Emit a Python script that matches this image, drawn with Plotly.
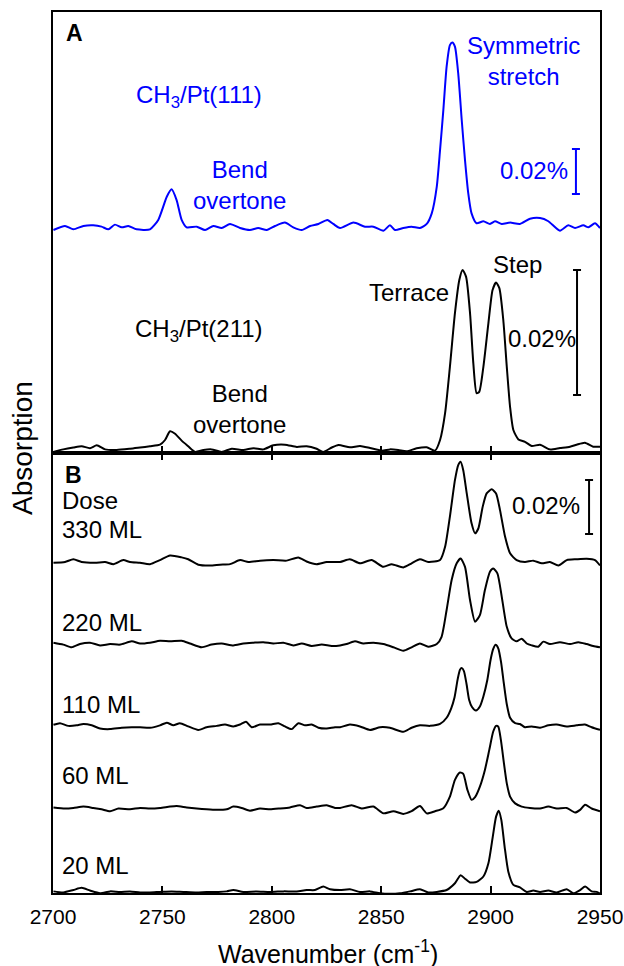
import plotly.graph_objects as go

# ---------------- data (absorption in units of 0.001 %) ----------------
# Panel A, CH3/Pt(111) (blue)
wn_111 = [2700.2, 2705.5, 2709.3, 2713.9, 2718.4, 2722.2, 2725.3, 2728.3, 2731.4, 2734.4,
          2738.2, 2744.3, 2748.1, 2752.0, 2754.2, 2756.5, 2758.8, 2761.1, 2765.7, 2769.5,
          2773.3, 2777.1, 2780.9, 2785.5, 2790.0, 2793.8, 2797.7, 2801.5, 2806.0, 2809.8,
          2813.7, 2817.5, 2821.3, 2825.4, 2828.1, 2831.2, 2837.3, 2842.6, 2846.4, 2851.0,
          2854.0, 2856.3, 2860.1, 2863.9, 2867.7, 2870.8, 2873.1, 2875.4, 2876.9, 2878.4,
          2879.9, 2881.4, 2882.5, 2883.7, 2885.2, 2886.8, 2888.3, 2889.8, 2891.3, 2893.6,
          2896.7, 2899.7, 2902.0, 2905.1, 2908.9, 2913.4, 2918.0, 2922.6, 2926.4, 2931.7,
          2935.5, 2938.6, 2942.4, 2944.7, 2947.7, 2950.0]
abs_111 = [-0.9, 0.9, -0.6, 0.9, 1.2, 0.6, -0.6, 1.5, 0.3, 0.9,
           -0.6, -0.6, 3.6, 13.9, 17.2, 12.4, 3.6, 0.3, 0.6, -0.9,
           0.9, 0.0, 1.8, 0.0, -0.9, 0.0, -0.9, 0.9, 2.4, 0.3,
           -0.9, 0.9, 1.8, 3.6, 1.8, 0.0, 2.4, 0.6, 0.6, -1.2,
           1.2, -0.9, 0.0, 0.6, 0.0, 1.8, 6.5, 18.4, 34.7, 52.4,
           71.7, 81.3, 82.5, 80.6, 68.7, 48.0, 30.2, 15.4, 6.5, 2.1,
           3.0, 1.8, 3.0, 1.8, 2.4, 1.8, 4.1, 4.4, 3.0, -1.2,
           1.2, 0.0, 1.2, 0.3, 2.1, 0.0]

# Panel A, CH3/Pt(211) (black)
wn_211 = [2700.2, 2704.7, 2709.3, 2713.1, 2716.9, 2720.0, 2723.8, 2729.1, 2735.2, 2739.8,
          2744.3, 2748.9, 2751.2, 2753.5, 2755.8, 2758.8, 2761.8, 2764.9, 2768.7, 2772.5,
          2777.1, 2781.7, 2787.0, 2791.6, 2796.1, 2800.7, 2806.0, 2811.4, 2815.9, 2820.5,
          2823.5, 2827.4, 2830.5, 2835.7, 2840.3, 2844.9, 2850.2, 2854.0, 2857.8, 2861.6,
          2866.2, 2870.8, 2874.6, 2876.9, 2879.2, 2881.4, 2883.7, 2885.7, 2887.2, 2888.8,
          2890.6, 2892.1, 2893.6, 2894.8, 2896.7, 2899.0, 2900.9, 2902.5, 2904.0, 2905.8,
          2907.4, 2908.9, 2910.4, 2912.7, 2915.7, 2918.8, 2922.6, 2927.1, 2931.7, 2936.3,
          2939.3, 2943.1, 2946.9, 2950.0]
abs_211 = [-0.3, 0.1, 0.4, 0.6, 0.3, 0.75, 0.1, 0.0, 0.2, 0.4,
           0.6, 0.85, 1.6, 3.0, 2.6, 1.5, 0.6, -0.3, 0.0, 0.1,
           -0.3, 0.2, 0.0, 0.3, 0.1, 0.75, 0.85, 0.5, 0.6, 0.2,
           -0.3, 0.4, 0.8, 0.43, 0.64, 0.32, -0.1, 0.1, 0.0, -0.2,
           0.27, 0.43, -0.1, 1.6, 5.9, 13.3, 21.9, 27.2, 28.8, 27.7,
           21.9, 13.9, 9.1, 9.3, 13.3, 20.3, 25.6, 26.8, 25.9, 20.8,
           13.3, 6.9, 3.2, 1.7, 1.3, 0.64, 0.85, 0.1, 0.32, 0.53,
           0.85, 1.17, 0.53, 0.53]

# Panel B, dose series
dose_labels = ["330 ML", "220 ML", "110 ML", "60 ML", "20 ML"]
dose_offsets = [122.2, 92.2, 61.9, 31.5, 0.4]

wn_330 = [2700.2, 2705.5, 2709.3, 2713.1, 2719.2, 2723.8, 2727.6, 2732.1, 2735.2, 2739.8,
          2744.3, 2748.9, 2753.5, 2758.8, 2761.8, 2766.4, 2771.8, 2776.3, 2780.9, 2785.5,
          2789.3, 2794.6, 2800.7, 2806.8, 2812.1, 2815.9, 2820.5, 2825.1, 2831.2, 2835.7,
          2840.3, 2845.6, 2851.0, 2854.8, 2860.1, 2863.9, 2867.7, 2871.5, 2876.9, 2879.2,
          2881.4, 2883.7, 2885.2, 2886.3, 2887.5, 2889.1, 2891.3, 2892.9, 2894.4, 2896.4,
          2898.2, 2900.5, 2902.5, 2904.3, 2906.6, 2908.9, 2911.9, 2915.7, 2919.5, 2923.4,
          2927.1, 2931.0, 2934.8, 2939.3, 2943.9, 2947.7, 2950.0]
abs_330 = [0.1, 0.4, 1.4, 0.4, 0.1, 0.4, -0.4, 1.1, 0.4, 0.1,
           -0.4, 1.1, 2.8, 2.1, 1.4, -0.6, -0.9, -0.6, -0.4, 1.1,
           0.4, 0.9, 1.1, 0.9, 2.1, 0.6, -0.4, 0.4, 0.4, 1.4,
           -0.1, 1.1, -1.4, -0.4, -1.6, -0.1, 1.4, 0.4, 1.1, 6.0,
           17.2, 30.7, 36.3, 37.5, 34.4, 25.8, 14.7, 11.0, 12.8, 20.9,
           25.8, 27.3, 25.8, 19.6, 9.8, 3.6, 1.1, 0.4, 0.9, -0.1,
           0.4, -0.9, 1.1, 1.4, 1.6, 1.1, -0.9]

wn_220 = [2700.2, 2704.7, 2708.5, 2712.3, 2716.9, 2721.5, 2726.1, 2730.6, 2736.0, 2739.8,
          2744.3, 2748.9, 2753.5, 2758.8, 2762.6, 2767.9, 2772.5, 2777.1, 2782.4, 2787.0,
          2791.6, 2796.1, 2800.7, 2805.3, 2809.8, 2813.7, 2818.2, 2822.8, 2827.4, 2831.2,
          2834.2, 2838.0, 2841.8, 2846.4, 2851.0, 2855.6, 2860.1, 2863.9, 2867.7, 2871.5,
          2875.4, 2877.6, 2879.9, 2882.2, 2884.5, 2886.3, 2888.3, 2890.6, 2892.9, 2895.1,
          2897.4, 2899.7, 2901.2, 2903.1, 2905.1, 2907.4, 2909.6, 2911.9, 2914.2, 2916.5,
          2918.8, 2921.8, 2924.1, 2927.1, 2931.7, 2936.3, 2940.1, 2943.9, 2946.9, 2950.0]
abs_220 = [0.5, -0.2, -1.2, 0.0, 0.5, -0.5, 0.0, -0.2, 1.0, 0.2,
           0.5, 1.2, 1.0, 1.2, 0.2, -1.2, -0.2, 0.2, -0.5, 0.2,
           0.5, 0.7, 0.2, 0.5, -0.5, 0.2, -0.7, -0.2, -0.7, -0.5,
           0.0, 1.0, 0.2, 0.5, 0.0, -1.2, -2.5, -1.2, 0.2, -1.0,
           0.0, 2.7, 12.6, 23.7, 29.9, 31.7, 28.6, 16.3, 8.3, 10.7,
           20.0, 26.8, 28.0, 26.2, 17.5, 6.4, 2.1, 1.0, 2.0, 0.2,
           -0.5, -1.0, 0.9, 0.0, 0.7, 0.0, 0.7, 0.0, -0.7, -1.2]

wn_110 = [2700.2, 2703.2, 2707.0, 2710.8, 2713.9, 2717.7, 2721.5, 2726.1, 2731.4, 2736.0,
          2739.8, 2744.3, 2748.9, 2752.0, 2755.0, 2758.0, 2761.8, 2766.4, 2770.2, 2774.8,
          2778.6, 2782.4, 2785.5, 2788.2, 2790.8, 2794.6, 2799.2, 2803.0, 2806.0, 2809.1,
          2812.1, 2815.2, 2818.2, 2821.3, 2825.1, 2828.9, 2831.2, 2835.7, 2840.3, 2844.9,
          2849.5, 2854.0, 2860.1, 2863.9, 2867.7, 2872.3, 2876.9, 2879.9, 2882.0, 2883.5,
          2885.0, 2886.0, 2886.8, 2887.8, 2889.0, 2890.2, 2891.5, 2893.3, 2895.1, 2896.7,
          2898.5, 2900.0, 2901.2, 2902.3, 2903.5, 2904.8, 2906.0, 2907.4, 2908.9, 2911.2,
          2913.4, 2915.7, 2918.8, 2922.6, 2926.4, 2930.2, 2934.8, 2939.3, 2943.1, 2946.2,
          2950.0]
abs_110 = [0.4, 1.0, 0.0, 0.2, 0.7, 0.2, -1.0, -1.2, -0.7, -0.5,
           -0.5, -0.7, 0.2, 1.2, 0.2, 1.0, -0.2, -1.5, -0.5, 0.0,
           0.5, -0.2, 0.5, 1.5, -0.5, 0.5, 0.5, 1.0, -0.2, -1.2,
           1.0, 0.2, 0.5, -0.7, -1.0, -0.5, -0.5, 0.5, -0.2, -1.5,
           -0.5, -0.7, -2.2, -0.7, 0.2, 0.0, 0.7, 3.0, 6.5, 10.5,
           17.5, 20.8, 21.4, 20.3, 15.5, 9.6, 7.0, 5.7, 7.2, 10.9,
           17.0, 24.5, 28.5, 30.0, 28.7, 23.5, 16.0, 8.0, 3.0, 1.0,
           0.7, -0.5, -0.2, -0.7, 0.2, 0.5, -0.2, 0.2, 0.5, -0.5,
           -1.5]

wn_60 = [2700.2, 2705.5, 2709.3, 2713.9, 2718.4, 2722.2, 2726.1, 2729.9, 2735.2, 2739.8,
         2744.3, 2748.9, 2753.5, 2756.5, 2761.1, 2765.7, 2770.2, 2774.8, 2779.4, 2782.4,
         2786.2, 2790.0, 2794.6, 2799.2, 2803.7, 2808.3, 2812.9, 2815.9, 2820.5, 2825.1,
         2828.9, 2831.2, 2836.5, 2841.1, 2846.4, 2851.0, 2855.6, 2860.1, 2863.9, 2867.7,
         2870.8, 2874.6, 2878.4, 2881.4, 2883.7, 2886.0, 2887.5, 2889.4, 2891.3, 2892.9,
         2895.1, 2897.4, 2899.4, 2901.2, 2902.5, 2903.5, 2904.7, 2906.1, 2907.4, 2908.9,
         2911.2, 2914.2, 2918.0, 2922.6, 2926.4, 2930.2, 2934.8, 2938.6, 2940.9, 2943.2,
         2946.2, 2950.0]
abs_60 = [0.2, -0.2, 0.0, 0.5, 0.0, -0.5, -1.2, -0.2, -0.5, 0.0,
          -0.2, 0.0, 0.5, 0.7, 0.2, -0.2, -0.5, -0.7, -0.5, 0.5,
          0.0, -1.0, -0.2, -0.5, -0.2, 0.2, 1.0, 0.0, 0.5, 1.0,
          0.0, 0.0, 1.0, -0.2, 0.5, -2.0, -1.2, -2.2, -1.2, 0.7,
          -2.0, -1.2, -0.1, 4.2, 10.4, 13.1, 12.6, 6.7, 3.0, 4.0,
          7.9, 14.1, 21.5, 28.3, 30.4, 30.1, 25.2, 16.5, 9.1, 4.2,
          1.7, 0.5, 0.0, -0.2, 0.5, -0.2, 0.0, -1.7, -0.7, 1.2,
          -0.2, -1.2]

wn_20 = [2700.2, 2704.7, 2709.3, 2713.1, 2716.9, 2721.5, 2726.1, 2730.6, 2735.2, 2739.8,
         2744.3, 2748.9, 2754.2, 2759.6, 2765.7, 2770.2, 2775.6, 2779.4, 2782.4, 2787.0,
         2793.1, 2799.2, 2805.3, 2811.4, 2815.9, 2819.7, 2823.5, 2826.6, 2831.2, 2835.7,
         2840.3, 2844.9, 2849.5, 2854.0, 2858.6, 2863.2, 2867.7, 2871.5, 2875.4, 2879.9,
         2883.7, 2886.3, 2888.3, 2890.6, 2893.6, 2896.7, 2899.0, 2901.0, 2902.5, 2903.7,
         2904.9, 2906.4, 2908.1, 2910.4, 2913.4, 2916.5, 2919.5, 2922.6, 2926.4, 2930.2,
         2934.8, 2937.8, 2940.9, 2943.2, 2946.2, 2948.5, 2950.0]
abs_20 = [0.2, -0.2, 0.7, 1.5, 0.5, -0.5, 0.2, 0.0, 0.2, -0.2,
          -0.2, 0.0, 0.2, 0.0, -0.2, 0.0, 0.0, 0.2, 0.7, 0.0,
          0.2, 0.0, 0.2, 0.2, 0.7, 0.7, 2.0, 1.0, 0.7, 1.0,
          0.0, 0.2, -0.5, -0.7, -0.5, 0.2, 1.0, -0.2, 0.0, 0.7,
          3.2, 6.2, 4.9, 3.5, 3.7, 5.7, 10.6, 20.5, 27.9, 30.1,
          26.7, 16.8, 7.5, 2.6, 1.7, 0.0, 0.5, 0.0, 0.5, -0.2,
          1.0, -0.5, 0.7, 2.0, 0.2, 0.0, -0.7]

dose_wn = [wn_330, wn_220, wn_110, wn_60, wn_20]
dose_abs = [abs_330, abs_220, abs_110, abs_60, abs_20]

x_ticks = [2700, 2750, 2800, 2850, 2900, 2950]
scale_bar = 20          # 0.02 % in units of 0.001 %
scale_label = "0.02%"

# ---------------- layout helpers ----------------
W, H = 624, 966
ML, MR, MT, MB = 53, 24, 12, 73
PW, PH = W - ML - MR, H - MT - MB
def px(xp):
    return (xp - ML) / PW
def py(yp):
    return (H - MB - yp) / PH

FONT = "Liberation Sans, Arial, sans-serif"
BLUE = "#0000FF"
split = py(453)

fig = go.Figure()

line_style = dict(width=2, shape="spline", smoothing=0.6)

fig.add_trace(go.Scatter(x=wn_111, y=abs_111, xaxis="x2", yaxis="y3", mode="lines",
                         line=dict(color=BLUE, **line_style), showlegend=False, hoverinfo="skip"))
fig.add_trace(go.Scatter(x=wn_211, y=abs_211, xaxis="x2", yaxis="y2", mode="lines",
                         line=dict(color="black", **line_style), showlegend=False, hoverinfo="skip"))
for wn, ab, off in zip(dose_wn, dose_abs, dose_offsets):
    fig.add_trace(go.Scatter(x=wn, y=[off + v for v in ab], xaxis="x", yaxis="y", mode="lines",
                             line=dict(color="black", **line_style), showlegend=False, hoverinfo="skip"))

# scale bars (I-beams) drawn as error bars
def bar(xv, yc, xa, ya, color):
    fig.add_trace(go.Scatter(x=[xv], y=[yc], xaxis=xa, yaxis=ya, mode="markers",
                             marker=dict(size=1, color="rgba(0,0,0,0)"),
                             error_y=dict(type="constant", value=scale_bar / 2, width=4,
                                          thickness=2, color=color),
                             showlegend=False, hoverinfo="skip"))
bar(2939.0, 25.1, "x2", "y3", BLUE)
bar(2939.5, 18.8, "x2", "y2", "black")
bar(2945.0, 143.0, "x", "y", "black")

axis_common = dict(showline=True, linecolor="black", linewidth=2, showgrid=False,
                   zeroline=False, automargin=False)

fig.update_layout(
    width=W, height=H,
    margin=dict(l=ML, r=MR, t=MT, b=MB, autoexpand=False),
    paper_bgcolor="white", plot_bgcolor="white",
    font=dict(family=FONT, color="black"),
    xaxis=dict(domain=[0, 1], range=[2700, 2950], anchor="y", mirror="ticks",
               ticks="inside", ticklen=7, tickwidth=2, tickcolor="black",
               tickvals=x_ticks, tickfont=dict(size=21, family=FONT), ticklabelstandoff=4,
               **axis_common),
    xaxis2=dict(domain=[0, 1], range=[2700, 2950], anchor="y2", matches="x", mirror=True,
                ticks="inside", ticklen=7, tickwidth=2, tickcolor="black",
                tickvals=x_ticks, showticklabels=False, **axis_common),
    yaxis=dict(domain=[0, split], range=[0, 440 / 2.7], anchor="x", mirror=True,
               ticks="", showticklabels=False, **axis_common),
    yaxis2=dict(domain=[split, 1], range=[-3 / 6.25, 438 / 6.25], anchor="x2", mirror=True,
                ticks="", showticklabels=False, **axis_common),
    yaxis3=dict(overlaying="y2", anchor="x2", range=[-225 / 2.25, 216 / 2.25], visible=False),
)

def ann(text, xp, yp, size=24, color="black", xanchor="center", **kw):
    fig.add_annotation(text=text, x=px(xp), y=py(yp), xref="paper", yref="paper",
                       xanchor=xanchor, yanchor="middle", showarrow=False,
                       font=dict(size=size, color=color, family=FONT), **kw)

ann("<b>A</b>", 74, 33, size=23)
ann("<b>B</b>", 73, 475, size=23)
ann("CH<sub>3</sub>/Pt(111)", 199, 96, color=BLUE)
ann("Bend<br>overtone", 239, 185, color=BLUE, align="center")
ann("Symmetric<br>stretch", 523, 61, color=BLUE, align="center")
ann(scale_label, 534, 170, color=BLUE)
ann("CH<sub>3</sub>/Pt(211)", 199, 331)
ann("Bend<br>overtone", 239, 409, align="center")
ann("Terrace", 409, 292)
ann("Step", 517, 264)
ann(scale_label, 542, 338)
ann("Dose", 60, 500, xanchor="left")
label_y = [530, 622, 704, 775, 865]
for lab, yy in zip(dose_labels, label_y):
    ann(lab, 60, yy, xanchor="left")
ann(scale_label, 546, 505)
ann("Wavenumber (cm<sup>-1</sup>)", 328, 952, size=25)
ann("Absorption", 22, 448, size=28, textangle=-90)

fig.write_html("out.html")
